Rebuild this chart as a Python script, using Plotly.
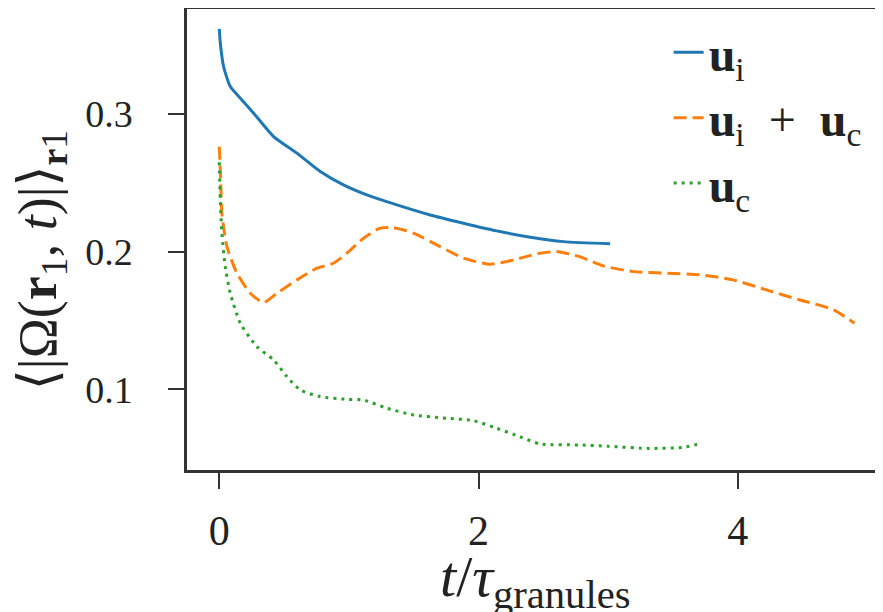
import plotly.graph_objects as go

# u_i (solid blue)
t_ui = [0.0, 0.008, 0.033, 0.085, 0.162, 0.265, 0.419, 0.599, 0.779, 0.958, 1.138, 1.37, 1.627, 1.884, 2.14, 2.40, 2.655, 3.015]
v_ui = [0.362, 0.3516, 0.3346, 0.320, 0.3116, 0.3007, 0.2837, 0.2716, 0.2583, 0.2486, 0.2413, 0.234, 0.2267, 0.2207, 0.2151, 0.2105, 0.2073, 0.2057]

# u_i + u_c (dashed orange)
t_uiuc = [0.0, 0.01, 0.02, 0.059, 0.136, 0.239, 0.342, 0.445, 0.599, 0.753, 0.881, 0.984, 1.113, 1.241, 1.344, 1.498, 1.704, 1.884, 2.09, 2.27, 2.45, 2.60, 2.78, 2.96, 3.194, 3.45, 3.71, 3.965, 4.22, 4.48, 4.74, 4.90]
v_uiuc = [0.2764, 0.2546, 0.228, 0.2037, 0.1844, 0.1698, 0.163, 0.1698, 0.1795, 0.188, 0.1916, 0.1989, 0.2098, 0.2171, 0.2175, 0.2135, 0.2037, 0.1953, 0.1909, 0.194, 0.1984, 0.2001, 0.1964, 0.1897, 0.1855, 0.1844, 0.1831, 0.1795, 0.1722, 0.1649, 0.1577, 0.148]

# u_c (dotted green)
t_uc = [0.0, 0.008, 0.02, 0.046, 0.085, 0.162, 0.29, 0.419, 0.522, 0.625, 0.779, 0.984, 1.113, 1.293, 1.498, 1.755, 1.96, 2.14, 2.32, 2.475, 2.78, 3.0, 3.32, 3.58, 3.72]
v_uc = [0.265, 0.2377, 0.2135, 0.1891, 0.1698, 0.148, 0.131, 0.1213, 0.1092, 0.0995, 0.0946, 0.0927, 0.0922, 0.0862, 0.0813, 0.0789, 0.0772, 0.0716, 0.0655, 0.0602, 0.0595, 0.0585, 0.057, 0.0578, 0.0607]

x_ticks = [0, 2, 4]
y_ticks = [0.1, 0.2, 0.3]
y_ticklabels = ["0.1", "0.2", "0.3"]

names = ["<b>u</b><sub>i</sub>",
         "<b>u</b><sub>i</sub>\u2002+\u2002<b>u</b><sub>c</sub>",
         "<b>u</b><sub>c</sub>"]

SERIF = "Liberation Serif, DejaVu Serif, serif"
fig = go.Figure()
fig.add_trace(go.Scatter(x=t_ui, y=v_ui, mode="lines", name=names[0],
                         line=dict(color="#1f77b4", width=3, shape="spline", smoothing=0.6)))
fig.add_trace(go.Scatter(x=t_uiuc, y=v_uiuc, mode="lines", name=names[1],
                         line=dict(color="#ff7f0e", width=3, dash="13px,6px", shape="spline", smoothing=0.6)))
fig.add_trace(go.Scatter(x=t_uc, y=v_uc, mode="lines", name=names[2],
                         line=dict(color="#2ca02c", width=3, dash="3px,5px", shape="spline", smoothing=0.6)))

fig.update_layout(
    width=875, height=604,
    margin=dict(l=179, r=0, t=1, b=142, autoexpand=False),
    plot_bgcolor="white", paper_bgcolor="white",
    font=dict(family=SERIF, color="#222222", size=40),
    showlegend=True,
    legend=dict(x=0.692, y=0.988, xanchor="left", yanchor="top",
                bgcolor="rgba(0,0,0,0)", font=dict(size=48, family=SERIF),
                tracegroupgap=0),
    xaxis=dict(range=[-0.249, 5.12], tickmode="array", tickvals=x_ticks,
               showgrid=False, zeroline=False,
               showline=True, mirror=True, linecolor="#333333", linewidth=2.5,
               ticks="outside", ticklen=16, tickwidth=2, tickcolor="#333333",
               tickfont=dict(size=42, family=SERIF), ticklabelstandoff=6, automargin=False),
    yaxis=dict(range=[0.0413, 0.3764], tickmode="array", tickvals=y_ticks, ticktext=y_ticklabels,
               showgrid=False, zeroline=False, showticklabels=True,
               showline=True, mirror=False, linecolor="#333333", linewidth=2.5,
               ticks="outside", ticklen=16, tickwidth=2, tickcolor="#333333",
               ticklabelstandoff=28,
               tickfont=dict(size=38, family=SERIF), automargin=False),
    annotations=[
        dict(text="<i>t</i>/<i>τ</i><sub>granules</sub>", xref="paper", yref="paper",
             x=0.5, y=-0.156, xanchor="center", yanchor="top", showarrow=False,
             font=dict(size=58, family=SERIF)),
        dict(text="⟨|Ω(<b>r</b><sub>1</sub>, <i>t</i>)|⟩<sub><b>r</b>1</sub>", xref="paper", yref="paper",
             x=-0.209, y=0.454, xanchor="center", yanchor="middle", showarrow=False,
             textangle=-90, font=dict(size=54, family=SERIF)),
    ],
)
fig.write_html("out.html")
